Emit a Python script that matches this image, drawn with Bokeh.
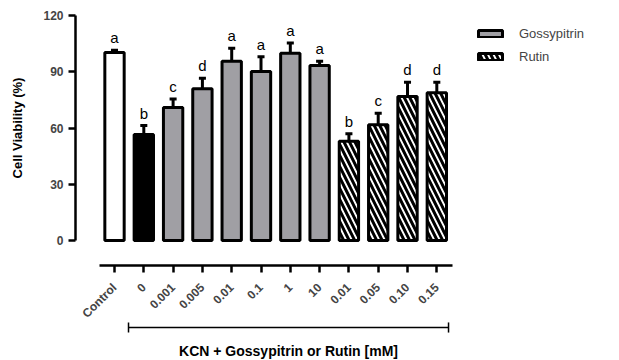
import math
from bokeh.plotting import figure
from bokeh.models import (ColumnDataSource, LinearAxis, FixedTicker, Range1d,
                          Legend, LegendItem)
from bokeh.core.properties import value
from bokeh.embed import file_html
from bokeh.resources import INLINE

# ---- data ----
labels = ["Control", "0", "0.001", "0.005", "0.01", "0.1", "1", "10",
          "0.01", "0.05", "0.10", "0.15"]
groups = ["control", "kcn", "gossypitrin", "gossypitrin", "gossypitrin",
          "gossypitrin", "gossypitrin", "gossypitrin",
          "rutin", "rutin", "rutin", "rutin"]
means = [100.3, 56.5, 71.0, 81.0, 95.6, 90.2, 99.9, 93.3, 53.0, 61.7, 76.8, 78.8]
errors = [1.2, 4.8, 4.5, 5.6, 7.0, 7.8, 5.5, 2.3, 3.9, 6.2, 7.6, 5.6]
letters = ["a", "b", "c", "d", "a", "a", "a", "a", "b", "c", "d", "d"]
y_ticks = [0, 30, 60, 90, 120]
x_title = "KCN + Gossypitrin or Rutin [mM]"
y_title = "Cell Viability (%)"

FONT_NAME = "Liberation Sans"
FONT = value(FONT_NAME)
GRAY = "#a09fa4"

# ---- layout (styling positions, in data units of the full-canvas frame) ----
X0, X1 = -3.891, 17.235       # x range across the whole canvas
Y0, Y1 = -64.0, 128.0         # y range across the whole canvas
YAXIS_AT = -1.331             # where the detached y axis sits
XAXIS_AT = -13.33             # where the detached category axis sits
BR0, BR1, BR_Y, BR_H = 0.478, 11.40, -46.4, 2.7   # bracket
XT_Y = -59.0                  # x title position
YT_X = -3.30                  # y title position

xs = list(range(len(labels)))
tops = [m + e for m, e in zip(means, errors)]

def sub(g):
    idx = [i for i, gg in enumerate(groups) if gg == g]
    return ColumnDataSource(dict(x=[xs[i] for i in idx], m=[means[i] for i in idx]))

p = figure(frame_width=619, frame_height=360, output_backend="svg", toolbar_location=None,
           x_range=Range1d(X0, X1), y_range=Range1d(Y0, Y1),
           min_border=0, x_axis_type=None, y_axis_type=None)
p.outline_line_color = None
p.grid.visible = False
p.background_fill_color = "white"
p.border_fill_color = "white"

bw = 0.66
r_ctrl = p.vbar(x="x", top="m", width=bw, source=sub("control"), fill_color="white",
                line_color="black", line_width=3)
r_kcn = p.vbar(x="x", top="m", width=bw, source=sub("kcn"), fill_color="black",
               line_color="black", line_width=3)
r_gos = p.vbar(x="x", top="m", width=bw, source=sub("gossypitrin"), fill_color=GRAY,
               line_color="black", line_width=3)
r_rut = p.vbar(x="x", top="m", width=bw, source=sub("rutin"), fill_color="white",
               hatch_pattern="left_diagonal_line", hatch_color="black",
               hatch_scale=11, hatch_weight=3, line_color="black", line_width=3)

# error bars (upper only)
err_src = ColumnDataSource(dict(x=xs, m=means, t=tops, l=letters,
                                x0=[x - 0.12 for x in xs], x1=[x + 0.12 for x in xs]))
p.segment(x0="x", y0="m", x1="x", y1="t", source=err_src, line_color="black", line_width=3)
p.segment(x0="x0", y0="t", x1="x1", y1="t", source=err_src, line_color="black", line_width=3)

p.text(x="x", y="t", text="l", source=err_src, text_align="center",
       text_baseline="bottom", y_offset=-4, text_font=FONT, text_font_size="15px",
       text_color="black")

# y axis (detached, bounded 0..120)
yax = LinearAxis(ticker=FixedTicker(ticks=y_ticks), bounds=(y_ticks[0], y_ticks[-1]),
                 fixed_location=YAXIS_AT)
yax.axis_line_width = 2.5
yax.major_tick_line_width = 2.5
yax.major_tick_in = 0
yax.major_tick_out = 7
yax.minor_tick_line_color = None
yax.major_label_text_font = FONT_NAME
yax.major_label_text_font_style = "bold"
yax.major_label_text_font_size = "12px"
yax.major_label_standoff = 5
p.add_layout(yax, "left")

p.text(x=[YT_X], y=[(y_ticks[0] + y_ticks[-1]) / 2], text=[y_title], angle=math.pi / 2,
       text_align="center", text_baseline="middle", text_font=FONT,
       text_font_style="bold", text_font_size="13px", text_color="black")

# category x axis, detached below the bars
xax = LinearAxis(ticker=FixedTicker(ticks=xs), bounds=(-0.51, 11.53),
                 major_label_overrides={x: l for x, l in zip(xs, labels)},
                 fixed_location=XAXIS_AT)
xax.axis_line_width = 2.5
xax.major_tick_line_width = 2.5
xax.major_tick_in = 0
xax.major_tick_out = 7
xax.minor_tick_line_color = None
xax.major_label_orientation = math.pi / 4
xax.major_label_text_font = FONT_NAME
xax.major_label_text_font_style = "bold"
xax.major_label_text_font_size = "12px"
xax.major_label_standoff = 13
p.add_layout(xax, "below")

# bracket under the treatment groups
p.segment(x0=[BR0, BR0, BR1], y0=[BR_Y, BR_Y - BR_H, BR_Y - BR_H],
          x1=[BR1, BR0, BR1], y1=[BR_Y, BR_Y + BR_H, BR_Y + BR_H],
          line_color="black", line_width=1.5)
p.text(x=[(BR0 + BR1) / 2], y=[XT_Y], text=[x_title], text_align="center",
       text_baseline="middle", text_font=FONT, text_font_style="bold",
       text_font_size="14px", text_color="black")

legend = Legend(items=[LegendItem(label="Gossypitrin", renderers=[r_gos]),
                       LegendItem(label="Rutin", renderers=[r_rut])],
                location=(475, 294), orientation="vertical")
legend.glyph_width = 30
legend.glyph_height = 9
legend.label_height = 20
legend.spacing = 3
legend.padding = 0
legend.margin = 0
legend.label_standoff = 14
legend.border_line_color = None
legend.background_fill_alpha = 0
legend.label_text_font = FONT_NAME
legend.label_text_font_size = "13px"
p.add_layout(legend)

open("out.html", "w").write(file_html(p, INLINE))
